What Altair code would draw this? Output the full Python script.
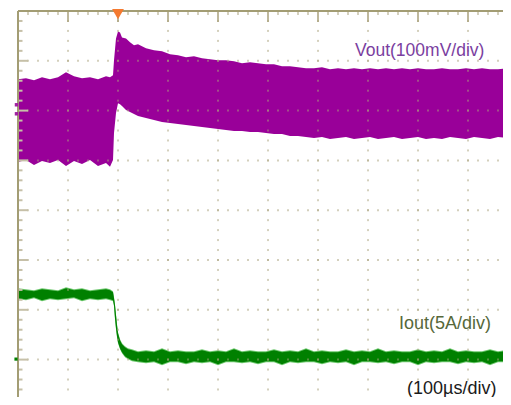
import altair as alt
import pandas as pd

# ---------------- data ----------------
# time in microseconds (100 us / div), Vout ripple in mV (100 mV / div), Iout in A (5 A / div)
vout_t = [0, 16, 32, 48, 64, 80, 96, 112, 128, 144, 160, 176, 184, 190,
          192, 196, 200, 204, 208, 216, 224, 232, 240,
          256, 272, 288, 304, 320, 336, 352, 368, 384, 400, 416, 432, 448, 464, 480, 496,
          512, 528, 544, 560, 576, 592, 608, 624, 640, 656, 672, 688, 704, 720, 736, 752,
          768, 784, 800, 816, 832, 848, 864, 880, 896, 912, 928, 944, 960, 976, 986]
vout_hi_mv = [63, 65, 61, 67, 63, 67, 77, 69, 65, 67, 63, 69, 67, 71,
              101, 145, 159, 157, 147, 145, 137, 131, 133,
              125, 121, 119, 113, 111, 107, 109, 105, 103, 101, 101, 99, 95, 97, 95, 93,
              93, 89, 89, 87, 85, 85, 87, 83, 85, 83, 85, 83, 85, 83, 85, 83,
              85, 83, 85, 83, 83, 85, 83, 83, 85, 83, 85, 83, 83, 85, 83]
vout_lo_mv = [-103, -99, -109, -101, -105, -99, -111, -101, -107, -99, -111, -105, -113, -99,
              -45, -5, 15, 13, 9, 1, -3, -7, -11,
              -15, -19, -23, -25, -27, -29, -31, -33, -35, -37, -39, -41, -41, -43, -43, -45,
              -47, -47, -51, -51, -53, -55, -53, -57, -55, -53, -57, -55, -53, -57, -55, -53,
              -57, -55, -53, -57, -55, -57, -53, -55, -57, -53, -55, -57, -53, -55, -57]

iout_t = [0, 16, 32, 48, 64, 80, 96, 112, 128, 144, 160, 176, 184, 190,
          192, 194, 196, 198, 200, 204, 208, 214, 220, 228,
          240, 256, 272, 288, 304, 320, 336, 352, 368, 384, 400, 416, 432, 448, 464, 480,
          496, 512, 528, 544, 560, 576, 592, 608, 624, 640, 656, 672, 688, 704, 720, 736,
          752, 768, 784, 800, 816, 832, 848, 864, 880, 896, 912, 928, 944, 960, 976, 986]
iout_hi_a = [7.07, 6.97, 6.87, 7.07, 6.97, 6.87, 7.17, 6.97, 7.07, 6.87, 6.97, 7.07, 6.97, 6.77,
             6.16, 5.46, 4.46, 3.45, 2.65, 1.95, 1.55, 1.24, 1.04, 0.94,
             0.74, 0.84, 0.74, 1.04, 0.74, 0.84, 0.74, 0.74, 0.94, 0.74, 0.84, 0.74, 1.04, 0.74, 0.84, 0.74,
             0.74, 0.94, 0.74, 0.84, 0.74, 1.04, 0.74, 0.84, 0.74, 0.74, 0.94, 0.74, 0.84, 0.74, 1.04, 0.74,
             0.84, 0.74, 0.74, 0.94, 0.74, 0.84, 0.74, 1.04, 0.74, 0.84, 0.74, 0.74, 0.94, 0.74, 0.84, 0.74]
iout_lo_a = [6.16, 6.06, 6.26, 5.96, 6.16, 6.06, 6.16, 6.26, 5.96, 6.16, 6.06, 6.16, 6.06, 5.96,
             5.46, 4.16, 3.15, 2.35, 1.75, 1.14, 0.74, 0.34, 0.14, -0.06,
             -0.16, -0.26, -0.16, -0.46, -0.16, -0.16, -0.36, -0.16, -0.26, -0.16, -0.46, -0.16, -0.16, -0.26, -0.16, -0.36,
             -0.16, -0.16, -0.46, -0.16, -0.26, -0.16, -0.16, -0.36, -0.16, -0.26, -0.16, -0.46, -0.16, -0.16, -0.26, -0.16,
             -0.36, -0.16, -0.16, -0.46, -0.16, -0.26, -0.16, -0.16, -0.36, -0.16, -0.26, -0.16, -0.46, -0.16, -0.16, -0.26]

# graticule
grid_t = [100, 200, 300, 400, 500, 600, 700, 800, 900]
grid_div = [3, 2, 1, 0, -1, -2, -3]

labels = ["Vout(100mV/div)", "Iout(5A/div)", "(100\u00b5s/div)"]
label_t = [674, 762, 778]
label_div = [3.197, -2.28, -3.59]
label_size = [17.5, 18, 18]
label_color = ["#7a3ea0", "#56683a", "#1a1a1a"]

# ---------------- scales ----------------
PX_PER_DIV = 49.8
PLOT_W = 485
PLOT_H = 386
T_MAX = PLOT_W * 2          # 0.5 px per microsecond
DIV_TOP = 4.0
DIV_BOT = DIV_TOP - PLOT_H / PX_PER_DIV
GRID = "#aaa27c"

xs = alt.Scale(domain=[0, T_MAX], nice=False, zero=False)
ys = alt.Scale(domain=[DIV_BOT, DIV_TOP], nice=False, zero=False)


def X(f):
    return alt.X(f, type="quantitative", scale=xs, axis=None)


def Y(f):
    return alt.Y(f, type="quantitative", scale=ys, axis=None)


n_v = min(len(vout_t), len(vout_hi_mv), len(vout_lo_mv))
vout_df = pd.DataFrame({"t": vout_t[:n_v], "hi": vout_hi_mv[:n_v], "lo": vout_lo_mv[:n_v]})
n_i = min(len(iout_t), len(iout_hi_a), len(iout_lo_a))
iout_df = pd.DataFrame({"t": iout_t[:n_i], "hi": iout_hi_a[:n_i], "lo": iout_lo_a[:n_i]})

vout = alt.Chart(vout_df).transform_calculate(
    yh="2 + datum.hi / 100", yl="2 + datum.lo / 100"
).mark_area(color="#990099", clip=True).encode(x=X("t"), y=Y("yh"), y2=alt.Y2("yl"))

iout_edge = alt.Chart(iout_df).transform_calculate(
    yh="-3 + datum.hi / 5 + 0.02", yl="-3 + datum.lo / 5 - 0.02"
).mark_area(color="#6cc76c", clip=True).encode(x=X("t"), y=Y("yh"), y2=alt.Y2("yl"))

iout = alt.Chart(iout_df).transform_calculate(
    yh="-3 + datum.hi / 5", yl="-3 + datum.lo / 5"
).mark_area(color="#008000", clip=True).encode(x=X("t"), y=Y("yh"), y2=alt.Y2("yl"))

vgrid_df = pd.DataFrame({"t": grid_t, "top": DIV_TOP, "bot": DIV_BOT})
vgrid = alt.Chart(vgrid_df).mark_rule(
    color=GRID, strokeWidth=1, strokeDash=[2, PX_PER_DIV / 5 - 2], strokeDashOffset=1
).encode(x=X("t"), y=Y("top"), y2=alt.Y2("bot"))

hgrid_df = pd.DataFrame({"d": grid_div, "x0": 0, "x1": T_MAX})
hgrid = alt.Chart(hgrid_df).mark_rule(
    color=GRID, strokeWidth=2, strokeDash=[1, 9], strokeDashOffset=0.5
).encode(y=Y("d"), x=X("x0"), x2=alt.X2("x1"))

# borders with tick marks
top_minor = pd.DataFrame({"t": [t for t in range(20, T_MAX, 20) if t % 100], "a": DIV_TOP,
                          "b": DIV_TOP - 4 / PX_PER_DIV})
top_major = pd.DataFrame({"t": list(range(100, T_MAX, 100)), "a": DIV_TOP, "b": DIV_TOP - 11 / PX_PER_DIV})
left_minor = pd.DataFrame({"d": [round(DIV_TOP - 0.2 * k, 2) for k in range(1, 39) if k % 5],
                           "a": 0, "b": 9})
left_major = pd.DataFrame({"d": grid_div, "a": 0, "b": 20})

tminor = alt.Chart(top_minor).mark_rule(color=GRID, strokeWidth=1).encode(
    x=X("t"), y=Y("a"), y2=alt.Y2("b"))
tmajor = alt.Chart(top_major).mark_rule(color=GRID, strokeWidth=1.5).encode(
    x=X("t"), y=Y("a"), y2=alt.Y2("b"))
lminor = alt.Chart(left_minor).mark_rule(color="#c6c0a8", strokeWidth=2).encode(
    y=Y("d"), x=X("a"), x2=alt.X2("b"))
lmajor = alt.Chart(left_major).mark_rule(color="#c6c0a8", strokeWidth=2).encode(
    y=Y("d"), x=X("a"), x2=alt.X2("b"))

border_df = pd.DataFrame({"t0": [0], "t1": [T_MAX], "top": [DIV_TOP], "bot": [DIV_BOT]})
top_border = alt.Chart(border_df).mark_rule(color="#a39d74", strokeWidth=2).encode(
    x=X("t0"), x2=alt.X2("t1"), y=Y("top"))
left_border = alt.Chart(border_df).mark_rule(color="#a39d74", strokeWidth=2).encode(
    x=X("t0"), y=Y("top"), y2=alt.Y2("bot"))

# channel / trigger markers
trig = alt.Chart(pd.DataFrame({"t": [200], "d": [3.935]})).mark_point(
    shape="triangle-down", filled=True, size=140, color="#f47a30", opacity=1, clip=False
).encode(x=X("t"), y=Y("d"))
ch1 = alt.Chart(pd.DataFrame({"t": [-3, -3], "d": [2.117, 1.936]})).mark_square(
    size=12, color="#a020a0", opacity=1, clip=False).encode(x=X("t"), y=Y("d"))
ch2 = alt.Chart(pd.DataFrame({"t": [-4], "d": [-2.99]})).mark_square(
    size=10, color="#008000", opacity=1, clip=False).encode(x=X("t"), y=Y("d"))

label_df = pd.DataFrame({"txt": labels, "t": label_t, "d": label_div, "c": label_color,
                         "s": label_size})
texts = alt.Chart(label_df).mark_text(
    align="left", baseline="middle", font="Liberation Sans"
).encode(x=X("t"), y=Y("d"), text="txt:N",
         size=alt.Size("s:Q", scale=None, legend=None),
         color=alt.Color("c:N", scale=None, legend=None))

chart = alt.layer(
    vout, iout_edge, iout, vgrid, hgrid, tminor, tmajor, lminor, lmajor,
    left_border, top_border, trig, ch1, ch2, texts
).properties(
    width=PLOT_W, height=PLOT_H,
    padding={"left": 10, "top": 3, "right": 0, "bottom": 0},
    autosize=alt.AutoSizeParams(type="none"),
    background="white",
).configure_view(stroke=None)

chart.save("out.html", embed_options={"renderer": "svg", "actions": False})
